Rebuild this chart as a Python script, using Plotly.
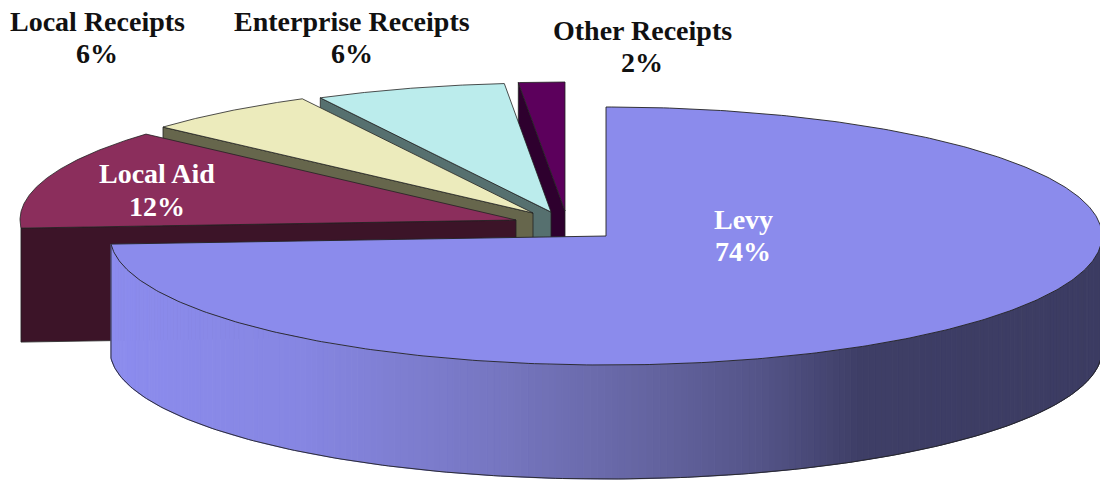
import numpy as np
import plotly.graph_objects as go

# Slices, clockwise from 12 o'clock
categories = ["Levy", "Local Aid", "Local Receipts", "Enterprise Receipts", "Other Receipts"]
slice_shares = [74.0, 12.6, 5.7, 6.2, 1.5]
# Percentages as printed on the chart
printed_percent = [74, 12, 6, 6, 2]

# Pie geometry in canvas pixels
RX, RY, DEPTH = 496, 129, 114
centres = {
    "Levy": (606, 236),
    "Local Aid": (516, 220),
    "Local Receipts": (533, 213),
    "Enterprise Receipts": (551, 212),
    "Other Receipts": (565, 211),
}
top_colors = {
    "Levy": "#8b8bec",
    "Local Aid": "#8b2e5c",
    "Local Receipts": "#ecebbc",
    "Enterprise Receipts": "#bbecec",
    "Other Receipts": "#5c005c",
}
side_colors = {
    "Local Aid": "#3c1428",
    "Local Receipts": "#66664c",
    "Enterprise Receipts": "#56706f",
    "Other Receipts": "#2e002e",
}
# centre x, name line y, percent line y, colour
label_style = {
    "Levy": (743, 219, 251, "white"),
    "Local Aid": (157, 173, 206, "white"),
    "Local Receipts": (97, 21, 53, "#111111"),
    "Enterprise Receipts": (352, 21, 53, "#111111"),
    "Other Receipts": (642, 30, 62, "#111111"),
}
gradient_x = [111, 300, 500, 650, 760, 860, 1110]
gradient_rgb = [(140, 140, 238), (134, 134, 226), (118, 118, 192), (100, 100, 160),
                (84, 84, 136), (62, 62, 102), (60, 60, 98)]
EDGE = "#222222"

edges = np.concatenate([[0], np.cumsum(slice_shares)]) / sum(slice_shares) * 360
spans = {c: (edges[i], edges[i + 1]) for i, c in enumerate(categories)}


def rim(cat, a0, a1, n=120):
    cx, cy = centres[cat]
    t = np.radians(np.linspace(a0, a1, n))
    return cx + RX * np.sin(t), cy - RY * np.cos(t)


fig = go.Figure()


def poly(xs, ys, fill, line=EDGE, width=0.8):
    fig.add_trace(go.Scatter(
        x=list(xs), y=list(ys), mode="lines", fill="toself", fillcolor=fill,
        line=dict(color=line, width=width), hoverinfo="skip", showlegend=False))


# Back slices, farthest first: cut face, then top face
for cat in ["Other Receipts", "Enterprise Receipts", "Local Receipts", "Local Aid"]:
    a0, a1 = spans[cat]
    cx, cy = centres[cat]
    x0, y0 = rim(cat, a0, a0, 1)
    poly([x0[0], cx, cx, x0[0], x0[0]],
         [y0[0], cy, cy + DEPTH, y0[0] + DEPTH, y0[0]], side_colors[cat])
    rx, ry = rim(cat, a0, a1)
    poly([cx, *rx, cx], [cy, *ry, cy], top_colors[cat])

# Levy: shaded outer wall, split into narrow strips
a0, a1 = spans["Levy"]
wx, wy = rim("Levy", 90, a1, 220)
for i in range(len(wx) - 1):
    mid = (wx[i] + wx[i + 1]) / 2
    r, g, b = [np.interp(mid, gradient_x, [c[k] for c in gradient_rgb]) for k in range(3)]
    col = f"rgb({r:.0f},{g:.0f},{b:.0f})"
    poly([wx[i], wx[i + 1], wx[i + 1], wx[i], wx[i]],
         [wy[i], wy[i + 1], wy[i + 1] + DEPTH, wy[i] + DEPTH, wy[i]], col, line=col, width=1)

# Wall outline: lower rim and left end
fig.add_trace(go.Scatter(
    x=list(wx) + [wx[-1]], y=list(wy + DEPTH) + [wy[-1]], mode="lines",
    line=dict(color=EDGE, width=0.9), hoverinfo="skip", showlegend=False))

# Levy top face
cx, cy = centres["Levy"]
tx, ty = rim("Levy", a0, a1, 400)
poly([cx, *tx, cx], [cy, *ty, cy], top_colors["Levy"], width=0.9)

# Each label is two lines placed separately, for the tight line spacing of the original
annotations = []
for c, p in zip(categories, printed_percent):
    x, y_name, y_pct, color = label_style[c]
    for text, y in ((c, y_name), (f"{p}%", y_pct)):
        annotations.append(dict(
            x=x, y=y, xref="x", yref="y", text=f"<b>{text}</b>", showarrow=False,
            xanchor="center", yanchor="middle",
            font=dict(family="Liberation Serif", size=28, color=color)))

fig.update_layout(
    width=1100, height=483, margin=dict(l=0, r=0, t=0, b=0),
    paper_bgcolor="white", plot_bgcolor="white", showlegend=False,
    xaxis=dict(range=[0, 1100], visible=False, fixedrange=True),
    yaxis=dict(range=[483, 0], visible=False, fixedrange=True),
    annotations=annotations,
)
fig.write_html(
    "out.html", config=dict(displayModeBar=False),
    post_script="document.body.style.margin='0';document.body.style.overflow='hidden';",
)
